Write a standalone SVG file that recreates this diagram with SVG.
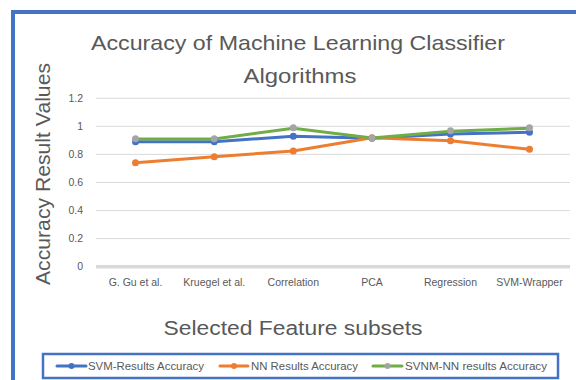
<svg xmlns="http://www.w3.org/2000/svg" width="576" height="380" viewBox="0 0 576 380">
<style>
  text { font-family: "Liberation Sans", Arial, sans-serif; fill: #595959; }
  .title { font-size: 21px; }
  .axt { font-size: 20px; }
  .tick { font-size: 10.5px; }
  .leg { font-size: 11px; }
  .grid { stroke: #D9D9D9; stroke-width: 1; }
  .s1 { fill: none; stroke: #4472C4; stroke-width: 3; stroke-linejoin: round; stroke-linecap: round; }
  .s2 { fill: none; stroke: #ED7D31; stroke-width: 3; stroke-linejoin: round; stroke-linecap: round; }
  .s3 { fill: none; stroke: #70AD47; stroke-width: 3; stroke-linejoin: round; stroke-linecap: round; }
  .m1 { fill: #4472C4; }
  .m2 { fill: #ED7D31; }
  .m3 { fill: #A5A5A5; }
</style>
<rect x="0" y="0" width="576" height="380" fill="#FFFFFF"/>
<rect id="frame" x="13" y="12" width="620" height="420" fill="none" stroke="#4472C4" stroke-width="4"/>

<g id="title">
  <text class="title" x="298" y="50" text-anchor="middle" textLength="414" lengthAdjust="spacingAndGlyphs">Accuracy of Machine Learning Classifier</text>
  <text class="title" x="300" y="83" text-anchor="middle" textLength="113" lengthAdjust="spacingAndGlyphs">Algorithms</text>
</g>

<g id="y-axis-title">
  <text class="axt" transform="translate(50,174) rotate(-90)" text-anchor="middle" textLength="222" lengthAdjust="spacingAndGlyphs">Accuracy Result Values</text>
</g>
<g id="x-axis-title">
  <text class="axt" x="293" y="335" text-anchor="middle" textLength="259" lengthAdjust="spacingAndGlyphs">Selected Feature subsets</text>
</g>

<g id="gridlines">
  <line class="grid" x1="96" y1="98.3" x2="570" y2="98.3"/>
  <line class="grid" x1="96" y1="126.3" x2="570" y2="126.3"/>
  <line class="grid" x1="96" y1="154.4" x2="570" y2="154.4"/>
  <line class="grid" x1="96" y1="182.5" x2="570" y2="182.5"/>
  <line class="grid" x1="96" y1="210.6" x2="570" y2="210.6"/>
  <line class="grid" x1="96" y1="238.6" x2="570" y2="238.6"/>
  <line x1="96" y1="266.7" x2="570" y2="266.7" stroke="#D9D9D9" stroke-width="3.5"/>
</g>

<g id="y-ticks" text-anchor="end">
  <text class="tick" x="83" y="102">1.2</text>
  <text class="tick" x="83" y="130">1</text>
  <text class="tick" x="83" y="158">0.8</text>
  <text class="tick" x="83" y="186">0.6</text>
  <text class="tick" x="83" y="214">0.4</text>
  <text class="tick" x="83" y="242">0.2</text>
  <text class="tick" x="83" y="270">0</text>
</g>

<g id="x-ticks" text-anchor="middle">
  <text class="tick" x="135.5" y="286">G. Gu et al.</text>
  <text class="tick" x="214.3" y="286">Kruegel et al.</text>
  <text class="tick" x="293.3" y="286">Correlation</text>
  <text class="tick" x="372" y="286">PCA</text>
  <text class="tick" x="450.5" y="286">Regression</text>
  <text class="tick" x="529.5" y="286">SVM-Wrapper</text>
</g>

<g id="connectors">
  <polyline id="svm-line" class="s1" points="135.5,141.8 214.3,141.8 293.3,136.2 372,138.3 450.5,134.1 529.5,132.2"/>
  <polyline id="nn-line" class="s2" points="135.5,162.7 214.3,156.7 293.3,151 372,137.8 450.5,140.7 529.5,149.3"/>
  <polyline id="svnm-line" class="s3" points="135.5,139 214.3,139 293.3,128.2 372,138 450.5,131.2 529.5,128.2"/>
</g>

<g id="svm-series">
  <circle class="m1" cx="135.5" cy="141.8" r="3.5"/>
  <circle class="m1" cx="214.3" cy="141.8" r="3.5"/>
  <circle class="m1" cx="293.3" cy="136.2" r="3.5"/>
  <circle class="m1" cx="372" cy="138.3" r="3.5"/>
  <circle class="m1" cx="450.5" cy="134.1" r="3.5"/>
  <circle class="m1" cx="529.5" cy="132.2" r="3.5"/>
</g>
<g id="nn-series">
  <circle class="m2" cx="135.5" cy="162.7" r="3.5"/>
  <circle class="m2" cx="214.3" cy="156.7" r="3.5"/>
  <circle class="m2" cx="293.3" cy="151" r="3.5"/>
  <circle class="m2" cx="372" cy="137.8" r="3.5"/>
  <circle class="m2" cx="450.5" cy="140.7" r="3.5"/>
  <circle class="m2" cx="529.5" cy="149.3" r="3.5"/>
</g>
<g id="svnm-series">
  <circle class="m3" cx="135.5" cy="138.7" r="3.5"/>
  <circle class="m3" cx="214.3" cy="138.7" r="3.5"/>
  <circle class="m3" cx="293.3" cy="127.7" r="3.5"/>
  <circle class="m3" cx="372" cy="138" r="3.5"/>
  <circle class="m3" cx="450.5" cy="130.7" r="3.5"/>
  <circle class="m3" cx="529.5" cy="127.7" r="3.5"/>
</g>

<g id="legend">
  <rect x="43" y="354" width="515" height="24" fill="#FFFFFF" stroke="#4472C4" stroke-width="2.5"/>
  <line class="s1" x1="57" y1="366" x2="86" y2="366"/>
  <circle class="m1" cx="71.5" cy="366" r="3"/>
  <text class="leg" x="88" y="370" textLength="116" lengthAdjust="spacingAndGlyphs">SVM-Results Accuracy</text>
  <line class="s2" x1="220" y1="366" x2="248" y2="366"/>
  <circle class="m2" cx="234" cy="366" r="3"/>
  <text class="leg" x="251" y="370" textLength="107" lengthAdjust="spacingAndGlyphs">NN Results Accuracy</text>
  <line class="s3" x1="373" y1="366" x2="402" y2="366"/>
  <circle class="m3" cx="387.5" cy="366" r="3"/>
  <text class="leg" x="405" y="370" textLength="142" lengthAdjust="spacingAndGlyphs">SVNM-NN results Accuracy</text>
</g>
</svg>
